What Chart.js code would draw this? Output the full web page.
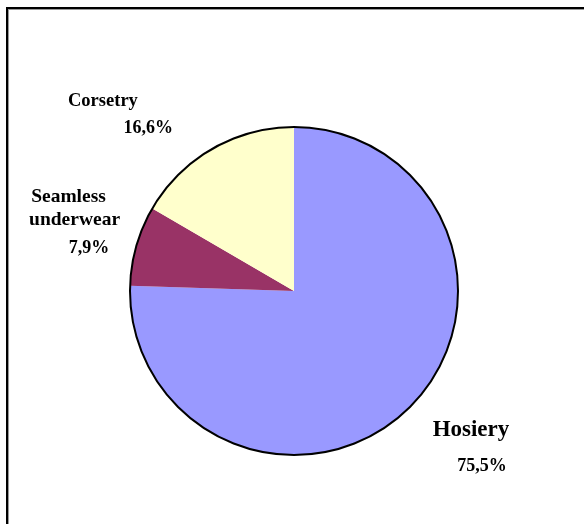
<!DOCTYPE html>
<html>
<head>
<meta charset="utf-8">
<script src="https://cdn.jsdelivr.net/npm/chart.js@4"></script>
<style>
  html, body { margin: 0; padding: 0; background: #fff; }
  #wrap { position: relative; width: 584px; height: 524px; overflow: hidden; }
  #frame {
    position: absolute; left: 6px; top: 7px; width: 620px; height: 560px;
    border-left: 2px solid #000; border-top: 2px solid #000;
    box-shadow: inset 1px 1px 0 #999;
  }
  canvas { position: absolute; left: 0; top: 0; }
</style>
</head>
<body>
<div id="wrap">
  <div id="frame"></div>
  <canvas id="pieChart" width="584" height="524"></canvas>
</div>
<script>
// chart data
const categories = ['Hosiery', 'Seamless underwear', 'Corsetry'];
const shares = [75.5, 7.9, 16.6];
const sliceColors = ['#9999ff', '#993366', '#ffffcc'];

// label text lines, placed relative to the pie centre (in radii)
const labelLines = [
  { text: 'Corsetry', dx: -1.165, dy: -1.158, size: 18.5 },
  { text: '16,6%', dx: -0.889, dy: -0.994, size: 18 },
  { text: 'Seamless', dx: -1.375, dy: -0.573, size: 19.5 },
  { text: 'underwear', dx: -1.338, dy: -0.433, size: 19.5 },
  { text: '7,9%', dx: -1.250, dy: -0.262, size: 18 },
  { text: 'Hosiery', dx: 1.079, dy: 0.848, size: 23 },
  { text: '75,5%', dx: 1.146, dy: 1.067, size: 18 }
];

const fmt = v => v.toFixed(1).replace('.', ',') + '%';

const outlinePlugin = {
  id: 'outline',
  afterDatasetsDraw(chart) {
    const arc = chart.getDatasetMeta(0).data[0];
    const c = chart.ctx;
    c.save();
    c.beginPath();
    c.arc(arc.x, arc.y, arc.outerRadius, 0, Math.PI * 2);
    c.lineWidth = 2;
    c.strokeStyle = '#000';
    c.stroke();

    c.fillStyle = '#000';
    c.textAlign = 'center';
    c.textBaseline = 'middle';
    const r = arc.outerRadius;
    labelLines.forEach(l => {
      c.font = 'bold ' + l.size + 'px "Liberation Serif", "Times New Roman", serif';
      c.fillText(l.text, arc.x + l.dx * r, arc.y + l.dy * r);
    });
    c.restore();
  }
};

new Chart(document.getElementById('pieChart').getContext('2d'), {
  type: 'pie',
  data: {
    labels: categories,
    datasets: [{
      data: shares,
      backgroundColor: sliceColors,
      borderWidth: 0
    }]
  },
  options: {
    responsive: false,
    animation: false,
    layout: { padding: { left: 130, right: 126, top: 127, bottom: 69 } },
    plugins: {
      legend: { display: false },
      tooltip: { callbacks: { label: ctx => ctx.label + ': ' + fmt(ctx.parsed) } }
    }
  },
  plugins: [outlinePlugin]
});
</script>
</body>
</html>
